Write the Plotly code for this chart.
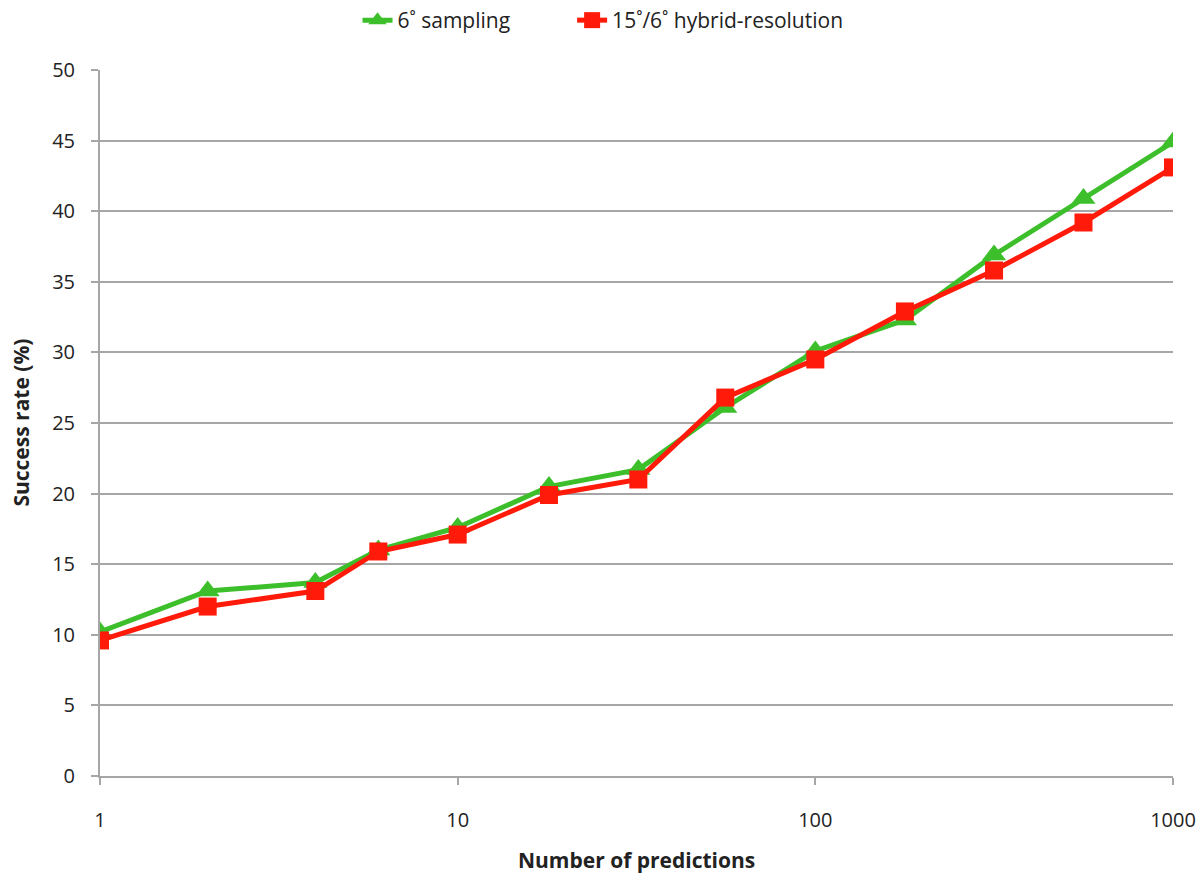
import plotly.graph_objects as go

predictions = [1, 2, 4, 6, 10, 18, 32, 56, 100, 178, 316, 562, 1000]
sampling_6 = [10.2, 13.1, 13.7, 16.0, 17.6, 20.5, 21.7, 26.1, 30.1, 32.3, 36.9, 40.9, 44.9]
hybrid_15_6 = [9.6, 12.0, 13.1, 15.9, 17.1, 19.9, 21.0, 26.8, 29.5, 32.9, 35.8, 39.2, 43.1]

x_ticks = [1, 10, 100, 1000]
y_ticks = [0, 5, 10, 15, 20, 25, 30, 35, 40, 45, 50]

FONT = "Open Sans"
GRID = "#a6a6a6"

fig = go.Figure()
fig.add_trace(go.Scatter(
    x=predictions, y=sampling_6, name="6˚ sampling", mode="lines+markers",
    line=dict(color="#3cbf2a", width=5),
    marker=dict(symbol="triangle-up", size=21, color="#3cbf2a"),
    legend="legend", showlegend=True,
))
fig.add_trace(go.Scatter(
    x=predictions, y=hybrid_15_6, name="15˚/6˚ hybrid-resolution", mode="lines+markers",
    line=dict(color="#ff1a0a", width=5),
    marker=dict(symbol="square", size=18, color="#ff1a0a"),
    legend="legend2", showlegend=True,
))

legend_common = dict(orientation="h", xanchor="left", y=1.0, yanchor="top",
                     yref="container", font=dict(size=21), bgcolor="rgba(0,0,0,0)",
                     visible=True)

fig.update_layout(
    width=1203, height=877,
    showlegend=True,
    margin=dict(l=100, r=30, t=70, b=101, autoexpand=False),
    paper_bgcolor="white", plot_bgcolor="white",
    font=dict(family=FONT, size=20, color="#222222"),
    legend=dict(x=0.24, **legend_common),
    legend2=dict(x=0.44, **legend_common),
    xaxis=dict(
        type="log", range=[0, 3], tickvals=x_ticks, ticktext=[str(v) for v in x_ticks],
        showgrid=False, showline=True, linecolor=GRID, linewidth=2,
        ticks="outside", ticklen=7, tickcolor=GRID, tickwidth=2,
        ticklabelstandoff=18, automargin=False,
        zeroline=False,
    ),
    yaxis=dict(
        range=[0, 50], tickvals=y_ticks,
        showgrid=True, gridcolor=GRID, gridwidth=2,
        showline=True, linecolor=GRID, linewidth=2,
        ticks="outside", ticklen=7, tickcolor=GRID, tickwidth=2,
        ticklabelstandoff=12, automargin=False,
        zeroline=False,
    ),
    annotations=[
        dict(text="<b>Number of predictions</b>", xref="paper", yref="paper",
             x=0.5, y=-0.119, xanchor="center", yanchor="middle", showarrow=False,
             font=dict(size=21)),
        dict(text="<b>Success rate (%)</b>", xref="paper", yref="paper",
             x=-0.074, y=0.5, xanchor="center", yanchor="middle", showarrow=False,
             textangle=-90, font=dict(size=21)),
    ],
)

fig.write_html("out.html")
